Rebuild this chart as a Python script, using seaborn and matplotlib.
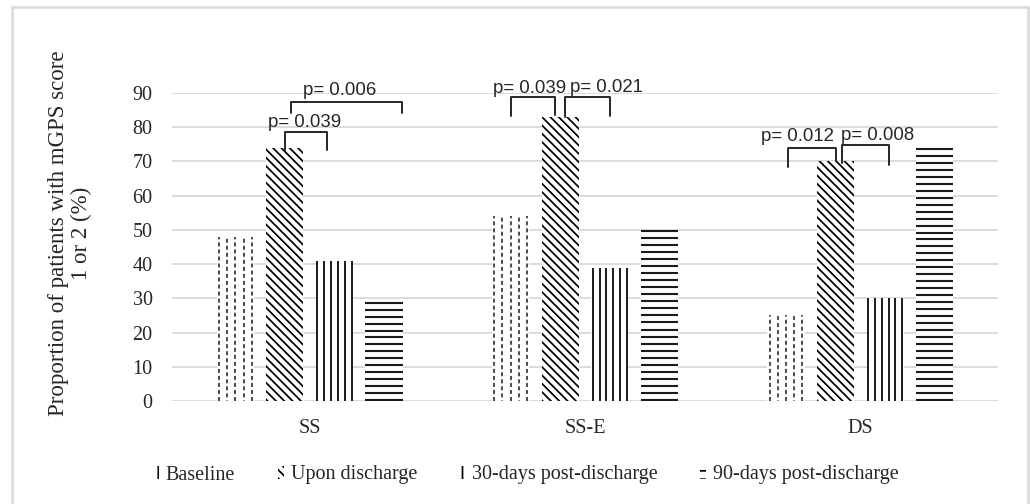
import matplotlib
matplotlib.use("Agg")
import matplotlib.pyplot as plt
from matplotlib.patches import Patch, Rectangle
import seaborn as sns
import pandas as pd
import numpy as np

# values (%)
categories = ["SS", "SS-E", "DS"]
timepoints = ["Baseline", "Upon discharge", "30-days post-discharge", "90-days post-discharge"]
baseline = [48, 54, 25]
upon_discharge = [74, 83, 70]
days30 = [41, 39, 30]
days90 = [29, 50, 74]
yticks = [0, 10, 20, 30, 40, 50, 60, 70, 80, 90]

# significance brackets: category, hue a, hue b, p label
p_cats = [0, 0, 1, 1, 2, 2]
p_from = [1, 1, 0, 1, 0, 1]
p_to = [2, 3, 1, 2, 1, 2]
p_labels = ["p= 0.039", "p= 0.006", "p= 0.039", "p= 0.021", "p= 0.012", "p= 0.008"]
# bracket heights: top bar, left leg end, right leg end, label centre
p_top = [78.7, 87.5, 88.9, 88.9, 74.0, 74.8]
p_leg_a = [73.4, 84.2, 83.3, 83.0, 68.5, 69.5]
p_leg_b = [73.2, 84.1, 83.6, 83.3, 70.0, 69.0]
p_text_y = [81.5, 90.7, 91.4, 91.6, 77.4, 77.7]
# small horizontal nudges in bar widths (the brackets were hand drawn)
p_dx_a = [0.0, 0.16, 0.0, 0.14, 0.05, 0.17]
p_dx_b = [-0.19, 0.49, -0.14, 0.0, 0.0, 0.10]
p_dx_text = [-0.05, -0.19, -0.1, 0.5, -0.38, 0.34]

legend_hatches = ["|", "\\\\\\\\", "||", "--"]

df = pd.DataFrame({
    "group": categories * 4,
    "time": [t for t in timepoints for _ in categories],
    "value": baseline + upon_discharge + days30 + days90,
})

sns.set_theme(style="white")
plt.rcParams["font.family"] = ["Liberation Serif", "DejaVu Serif"]
plt.rcParams["hatch.linewidth"] = 1.25

fig = plt.figure(figsize=(10.3, 5.04), dpi=100)
ax = fig.add_axes([172 / 1030, 1 - 401 / 504, (998 - 172) / 1030, (401 - 93) / 504])

sns.barplot(data=df, x="group", y="value", hue="time", order=categories,
            hue_order=timepoints, palette=["white"] * 4, edgecolor="black",
            linewidth=0, width=0.72, gap=0.25, legend=False, ax=ax)

grey = "#d9d9d9"
ink = "#1a1a1a"

# upon discharge: dense diagonal hatch
for bar in ax.containers[1]:
    bar.set_hatch("\\\\\\\\")

# the other Excel pattern fills are drawn as lines inside each bar
for bar in ax.containers[0]:
    x0, w, top = bar.get_x(), bar.get_width(), bar.get_height()
    for k, f in enumerate([0.06, 0.28, 0.5, 0.72, 0.94]):
        off = 0 if k % 2 == 0 else 2.2
        ax.plot([x0 + f * w, x0 + f * w], [0, top], color=ink, lw=1.1,
                linestyle=(off, (2.6, 2.0)), solid_capstyle="butt")

for bar in ax.containers[2]:
    x0, w, top = bar.get_x(), bar.get_width(), bar.get_height()
    for f in np.linspace(0.04, 0.96, 6):
        ax.plot([x0 + f * w, x0 + f * w], [0, top], color=ink, lw=1.4,
                solid_capstyle="butt")

for bar in ax.containers[3]:
    x0, w, top = bar.get_x(), bar.get_width(), bar.get_height()
    n = int(round(top / 2.05)) + 1
    for y in np.linspace(0.3, top - 0.3, n):
        ax.plot([x0, x0 + w], [y, y], color=ink, lw=1.5, solid_capstyle="butt")

ax.set_ylim(0, 90)
ax.set_xlim(-0.5, 2.5)
ax.set_yticks(yticks)
ax.yaxis.grid(True, color=grey, lw=1.3)
ax.set_axisbelow(True)
for s in ax.spines.values():
    s.set_visible(False)
ax.tick_params(axis="y", length=0, pad=14, labelsize=14.5, colors="#262626")
ax.tick_params(axis="x", length=0, pad=13, labelsize=14.5, colors="#262626")
ax.set_xlabel("")
ax.set_ylabel("")

# p-value brackets
for i, lab in enumerate(p_labels):
    ba = ax.containers[p_from[i]][p_cats[i]]
    bb = ax.containers[p_to[i]][p_cats[i]]
    w = ba.get_width()
    xa = ba.get_x() + w / 2 + p_dx_a[i] * w
    xb = bb.get_x() + w / 2 + p_dx_b[i] * w
    ax.plot([xa, xa, xb, xb], [p_leg_a[i], p_top[i], p_top[i], p_leg_b[i]],
            color="#262626", lw=1.4, clip_on=False, solid_joinstyle="round")
    ax.text((xa + xb) / 2 + p_dx_text[i] * w, p_text_y[i], lab, ha="center", va="center",
            fontsize=13.4, family=["Liberation Sans", "DejaVu Sans"], color="#262626",
            clip_on=False)

fig.text(70 / 1030, 1 - 233 / 504, "Proportion of patients with mGPS score\n1 or 2 (%)",
         rotation=90, ha="center", va="center", multialignment="center",
         fontsize=16.5, linespacing=1.1, color="#262626")

handles = [Patch(facecolor="white", edgecolor="black", linewidth=0, hatch=hh)
           for hh in legend_hatches]
fig.legend(handles, timepoints, loc="center", bbox_to_anchor=(526 / 1030, 1 - 475 / 504),
           ncol=4, frameon=False, fontsize=14.5, handlelength=0.3, handleheight=0.6,
           handletextpad=0.35, columnspacing=2.1, labelcolor="#262626")

# light grey chart-area border
fig.patches.append(Rectangle((12 / 1030, -0.02), (1028 - 12) / 1030, 0.02 + 1 - 7 / 504,
                             transform=fig.transFigure, fill=False, edgecolor=grey, lw=1.8))

fig.savefig("out.png", dpi=100, facecolor="white")
